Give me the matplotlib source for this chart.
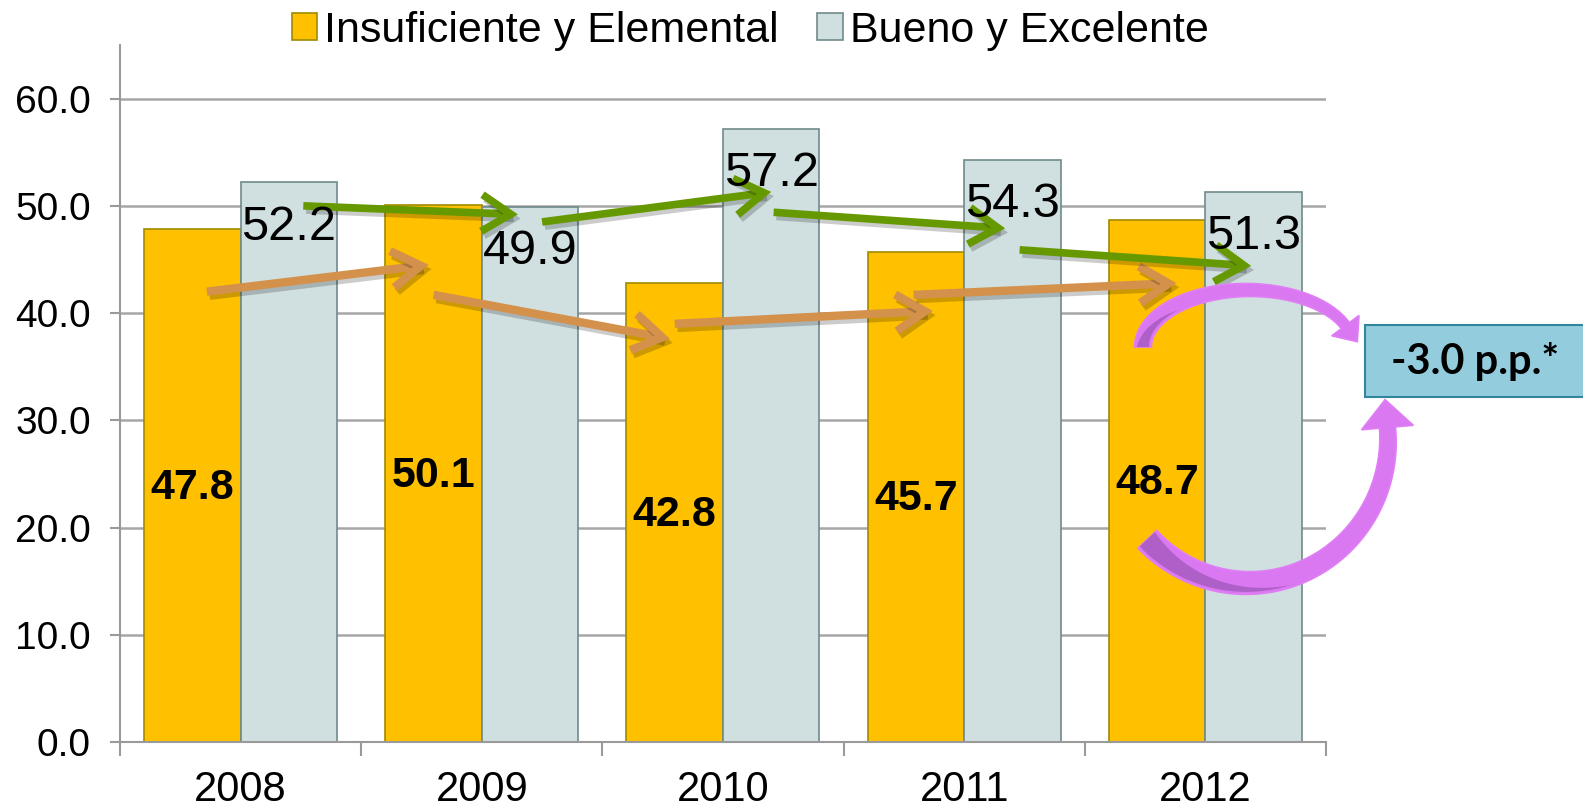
import matplotlib
matplotlib.use("Agg")
import matplotlib.pyplot as plt
import matplotlib.patheffects as pe
from matplotlib.patches import FancyArrowPatch, Rectangle, Polygon
import numpy as np

plt.rcParams["font.family"] = ["Liberation Sans", "DejaVu Sans"]

years = ["2008", "2009", "2010", "2011", "2012"]
insuficiente = [47.8, 50.1, 42.8, 45.7, 48.7]
bueno = [52.2, 49.9, 57.2, 54.3, 51.3]
cambio = "-3.0 p.p.*"

# hand-drawn trend arrows from the slide: (x in category units, y in %)
orange_arrows = [((-0.14, 42.0), (0.78, 44.5)),
                 ((0.80, 41.7), (1.78, 37.6)),
                 ((1.80, 39.0), (2.87, 40.2)),
                 ((2.79, 41.7), (3.88, 42.8))]
green_arrows = [((0.26, 50.0), (1.15, 49.2)),
                ((1.25, 48.5), (2.20, 51.3)),
                ((2.21, 49.4), (3.17, 47.9)),
                ((3.23, 45.9), (4.19, 44.4))]

YELLOW, YELLOW_EDGE = "#FFC000", "#A08C00"
GRAY, GRAY_EDGE = "#D0DFE0", "#6F8A8B"
ORANGE, GREEN = "#D4914C", "#669900"
MAGENTA, MAGENTA_DARK = "#DA78F2", "#AE60C8"

W, H = 1583, 811

fig = plt.figure(figsize=(W / 100, H / 100), dpi=100)
ax = fig.add_axes([0.0758, 0.0851, 0.7618, 0.8594])

x = np.arange(len(years))
w = 0.4
b1 = ax.bar(x - w / 2, insuficiente, w, color=YELLOW, edgecolor=YELLOW_EDGE, linewidth=1.2,
            label="Insuficiente y Elemental", zorder=2)
b2 = ax.bar(x + w / 2, bueno, w, color=GRAY, edgecolor=GRAY_EDGE, linewidth=1.2,
            label="Bueno y Excelente", zorder=2)

for xi, v in zip(x, insuficiente):
    ax.text(xi - w / 2, v / 2 - 0.2, f"{v:.1f}", ha="center", va="center",
            fontsize=31, fontweight="bold", zorder=5)
for xi, v in zip(x, bueno):
    ax.text(xi + w / 2, v - 4.2, f"{v:.1f}", ha="center", va="center",
            fontsize=35, zorder=5)

shadow = [pe.SimpleLineShadow(offset=(2, -3), alpha=0.2), pe.Normal()]
for arrows, col, lw in [(orange_arrows, ORANGE, 6), (green_arrows, GREEN, 5.5)]:
    for p0, p1 in arrows:
        a = FancyArrowPatch(p0, p1, arrowstyle="->,head_length=0.95,head_width=0.6",
                            mutation_scale=22, color=col, lw=lw, shrinkA=0, shrinkB=0,
                            capstyle="butt", joinstyle="miter", zorder=4,
                            path_effects=shadow)
        ax.add_patch(a)

ax.set_xlim(-0.5, 4.5)
ax.set_ylim(0, 65)
ax.set_yticks(np.arange(0, 61, 10))
ax.set_yticklabels([f"{t:.1f}" for t in np.arange(0, 61, 10)])
ax.set_xticks(x)
ax.set_xticklabels(years)
ax.set_xticks(np.arange(-0.5, 5, 1), minor=True)
ax.tick_params(axis="x", which="major", length=0, pad=20, labelsize=30)
ax.tick_params(axis="x", which="minor", length=10, width=1.5, color="#9A9A9A", direction="out")
ax.tick_params(axis="y", length=7, width=1.5, color="#9A9A9A", pad=14, labelsize=28)
ax.grid(True, axis="y", color="#A6A6A6", linewidth=1.8, zorder=0)
ax.set_axisbelow(True)
for s in ["top", "right"]:
    ax.spines[s].set_visible(False)
for s in ["left", "bottom"]:
    ax.spines[s].set_color("#9A9A9A")
    ax.spines[s].set_linewidth(1.5)

fig.legend(handles=[b1, b2], loc="center", bbox_to_anchor=(750 / W, 1 - 31 / H),
           ncol=2, frameon=False, fontsize=31, handlelength=0.6, handleheight=0.6,
           handletextpad=0.15, columnspacing=0.9, borderpad=0)

# change box on the right
ax.add_patch(Rectangle((4.66, 32.2), 0.92, 6.7, facecolor="#93CDDD", edgecolor="#31859C",
                       linewidth=1.5, clip_on=False, zorder=6))
ax.text(5.12, 35.5, cambio, ha="center", va="center", fontsize=30, fontweight="bold",
        family=["Lato", "DejaVu Sans"], zorder=7)


def block_arrow(cx, cy, rx, ry, t0, t1, w0, w1, head_w, head_len, dark_frac, dark_side):
    """Curved block arrow along an ellipse, drawn in pixel space (y down)."""
    t = np.radians(np.linspace(t0, t1, 120))
    sgn = np.sign(t1 - t0)
    px = cx + rx * np.cos(t)
    py = cy - ry * np.sin(t)
    tx = -rx * np.sin(t) * sgn
    ty = -ry * np.cos(t) * sgn
    norm = np.hypot(tx, ty)
    tx, ty = tx / norm, ty / norm
    nx, ny = -ty, tx
    wid = np.linspace(w0, w1, len(t))
    left = np.column_stack([px + nx * wid / 2, py + ny * wid / 2])
    right = np.column_stack([px - nx * wid / 2, py - ny * wid / 2])
    bx, by = px[-1], py[-1]
    head = [(bx + nx[-1] * head_w / 2, by + ny[-1] * head_w / 2),
            (bx + tx[-1] * head_len, by + ty[-1] * head_len),
            (bx - nx[-1] * head_w / 2, by - ny[-1] * head_w / 2)]
    pts = np.vstack([left, head, right[::-1]])
    to_fig = lambda p: np.column_stack([p[:, 0] / W, 1 - p[:, 1] / H])
    fig.add_artist(Polygon(to_fig(pts), closed=True, facecolor=MAGENTA, edgecolor="#E07EF5",
                           linewidth=1.2, transform=fig.transFigure, zorder=6))
    # darker inner shading near the tail
    n = int(len(t) * dark_frac)
    dw = np.linspace(1, 0, n) * (wid[:n] - 5)
    o1 = dark_side * (wid[:n] / 2 - 2.5)
    o2 = o1 - dark_side * dw
    a = np.column_stack([px[:n] + nx[:n] * o1, py[:n] + ny[:n] * o1])
    b = np.column_stack([px[:n] + nx[:n] * o2, py[:n] + ny[:n] * o2])
    fig.add_artist(Polygon(to_fig(np.vstack([a, b[::-1]])), closed=True,
                           facecolor=MAGENTA_DARK, edgecolor="none",
                           transform=fig.transFigure, zorder=6.5))


block_arrow(1248, 347, 105, 57, 180, 22, 17, 10, 34, 20, dark_frac=0.3, dark_side=1)
block_arrow(1248, 440, 140, 143, 224, 365, 26, 16, 52, 28, dark_frac=0.45, dark_side=1)

fig.savefig("out.png", dpi=100)
